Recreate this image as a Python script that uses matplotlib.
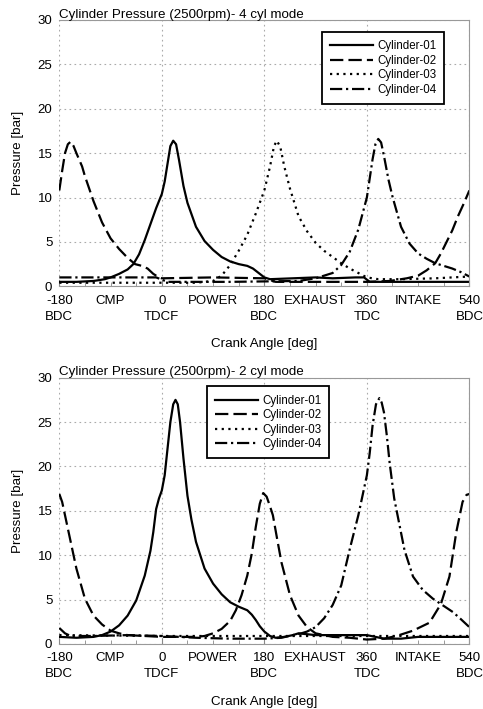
import matplotlib
matplotlib.use("Agg")
import matplotlib.pyplot as plt
from matplotlib.ticker import FixedLocator, FuncFormatter

plt.rcParams['font.family'] = ['Liberation Sans', 'DejaVu Sans']

# ---- 4 cylinder mode (top) ----
c1_4_deg = [-180, -150, -120, -100, -90, -75, -60, -50, -40, -30, -20, -10, 0, 5, 10, 15, 20, 25, 30, 38, 45,
            60, 75, 90, 105, 120, 135, 150, 160, 170, 180, 190, 230, 270, 300, 340, 355, 365, 400, 450, 500, 540]
c1_4_p = [0.5, 0.5, 0.6, 0.8, 1.0, 1.4, 1.9, 2.5, 3.6, 5.2, 7.0, 8.8, 10.4, 11.8, 13.8, 15.8, 16.4, 16.0, 14.3, 11.3, 9.4,
          6.7, 5.1, 4.1, 3.3, 2.8, 2.5, 2.3, 2.0, 1.5, 1.0, 0.8, 0.9, 1.0, 0.9, 1.0, 1.0, 0.5, 0.5, 0.5, 0.5, 0.5]

c2_4_deg = [-180, -175, -170, -165, -160, -155, -150, -140, -135, -120, -105, -90, -75, -60, -47, -35, -25, -15, -5,
            0, 90, 180, 200, 300, 360, 400, 430, 450, 465, 480, 490, 500, 510, 520, 530, 540]
c2_4_p = [10.8, 13.0, 15.0, 16.0, 16.3, 15.8, 15.0, 13.5, 12.4, 9.6, 7.2, 5.4, 4.2, 3.2, 2.5, 2.3, 2.0, 1.4, 1.0,
          0.9, 1.0, 0.9, 0.5, 0.5, 0.5, 0.6, 0.9, 1.2, 1.8, 2.6, 3.7, 5.0, 6.3, 7.9, 9.3, 10.8]

c3_4_deg = [-180, -90, 0, 60, 90, 105, 120, 135, 150, 165, 180, 190, 197, 202, 208, 215, 225, 240, 255, 270, 285,
            300, 315, 330, 345, 360, 380, 420, 480, 540]
c3_4_p = [0.4, 0.4, 0.4, 0.4, 0.6, 1.2, 2.4, 4.0, 5.8, 8.2, 10.8, 13.5, 15.8, 16.4, 15.7, 13.5, 11.0, 7.9, 6.2, 4.9, 4.0,
          3.3, 2.6, 2.0, 1.5, 1.0, 0.8, 0.8, 0.9, 1.1]

c4_4_deg = [-180, -90, -10, 10, 120, 240, 270, 285, 300, 315, 330, 345, 360, 370, 375, 380, 385, 390, 398, 405, 420,
            435, 450, 465, 480, 495, 510, 525, 540]
c4_4_p = [1.0, 1.0, 1.0, 0.5, 0.5, 0.6, 0.9, 1.2, 1.5, 2.4, 3.9, 6.4, 10.0, 14.3, 16.0, 16.6, 16.2, 14.7, 12.0, 10.1, 6.7,
          4.8, 3.7, 3.1, 2.6, 2.3, 2.0, 1.6, 1.1]

# ---- 2 cylinder mode (bottom) ----
c1_2_deg = [-180, -150, -120, -105, -90, -75, -60, -45, -30, -20, -15, -10, -5, 0, 5, 10, 15, 20, 24, 28, 32, 38, 45,
            52, 60, 75, 90, 105, 120, 135, 150, 158, 165, 172, 180, 190, 200, 215, 230, 240, 255, 270, 300, 360, 375,
            390, 420, 450, 540]
c1_2_p = [0.8, 0.7, 0.8, 1.0, 1.4, 2.1, 3.2, 4.9, 7.7, 10.5, 12.6, 15.2, 16.4, 17.3, 19.0, 22.0, 25.0, 27.0, 27.5, 27.0,
          25.0, 20.9, 16.7, 14.0, 11.5, 8.5, 6.8, 5.6, 4.7, 4.2, 3.8, 3.3, 2.7, 2.0, 1.4, 0.9, 0.7, 0.8, 1.0, 1.2, 1.1,
          1.0, 1.0, 1.0, 0.8, 0.6, 0.6, 0.8, 0.8]

c2_2_deg = [-180, -175, -170, -160, -150, -135, -120, -105, -90, -75, -60, -30, 0, 30, 60, 75, 90, 105, 120, 130, 140,
            150, 158, 165, 172, 178, 184, 190, 195, 202, 210, 225, 240, 255, 270, 300, 330, 360, 390, 412, 441, 470,
            490, 505, 517, 528, 535, 540]
c2_2_p = [16.9, 16.0, 14.5, 11.5, 8.5, 5.1, 3.2, 2.2, 1.5, 1.2, 1.0, 0.9, 0.8, 0.8, 0.8, 0.9, 1.2, 1.7, 2.6, 3.8, 5.5,
          7.7, 10.2, 13.2, 15.8, 17.0, 16.6, 15.5, 14.5, 12.0, 9.2, 5.5, 3.2, 1.9, 1.2, 0.8, 0.7, 0.5, 0.6, 0.9, 1.5,
          2.4, 4.5, 7.6, 12.6, 16.0, 16.8, 16.9]

c3_2_deg = [-180, 0, 180, 360, 540]
c3_2_p = [1.0, 0.9, 0.9, 0.9, 0.9]

c4_2_deg = [-180, -170, -160, -120, -60, 0, 60, 120, 180, 210, 230, 245, 255, 270, 285, 300, 315, 330, 345, 355, 360,
            365, 370, 376, 382, 386, 390, 395, 400, 408, 426, 441, 458, 476, 490, 511, 525, 540]
c4_2_p = [1.8, 1.2, 0.9, 0.9, 1.0, 0.9, 0.7, 0.6, 0.6, 0.7, 1.0, 1.2, 1.4, 1.9, 2.9, 4.4, 6.6, 10.7, 14.5, 17.5, 19.0,
          21.5, 24.6, 27.0, 27.7, 27.2, 26.1, 23.5, 20.4, 16.4, 10.6, 7.6, 6.1, 5.1, 4.5, 3.6, 2.8, 1.9]

labels = ['Cylinder-01', 'Cylinder-02', 'Cylinder-03', 'Cylinder-04']
major_ticks = [-180, 0, 180, 360, 540]
major_labels = ['-180\nBDC', '0\nTDCF', '180\nBDC', '360\nTDC', '540\nBDC']
stroke_names = {-90: 'CMP', 90: 'POWER', 270: 'EXHAUST', 450: 'INTAKE'}

styles = ['-', (0, (6, 2.3)), (0, (1, 2)), (0, (5.5, 1.7, 1, 1.7))]


def draw_panel(ax, series, title, legend_xy):
    for (deg, p), lab, ls in zip(series, labels, styles):
        ax.plot(deg, p, color='black', linestyle=ls, linewidth=1.6, label=lab)

    ax.set_xlim(-180, 540)
    ax.set_ylim(0, 30)
    ax.set_yticks([0, 5, 10, 15, 20, 25, 30])

    ax.xaxis.set_major_locator(FixedLocator(major_ticks))
    ax.set_xticklabels(major_labels)
    ax.xaxis.set_minor_locator(FixedLocator(list(range(-135, 540, 45))))
    ax.xaxis.set_minor_formatter(FuncFormatter(lambda v, pos: stroke_names.get(int(round(v)), '')))

    ax.tick_params(axis='x', which='both', direction='in', colors='#888888', labelcolor='black',
                   labelsize=9.5, pad=6)
    ax.tick_params(axis='x', which='major', length=4)
    ax.tick_params(axis='x', which='minor', length=3)
    ax.tick_params(axis='y', direction='in', length=0, labelsize=9.5, pad=5)
    for t in ax.get_xticklabels():
        t.set_linespacing(1.45)

    ax.grid(True, which='major', linestyle=(0, (1.5, 3)), color='#aaaaaa', linewidth=0.8)

    for side in ['top', 'right', 'bottom']:
        ax.spines[side].set_color('#999999')
        ax.spines[side].set_linewidth(0.8)
    ax.spines['left'].set_visible(False)

    ax.set_xlabel('Crank Angle [deg]', fontsize=9.6, labelpad=11)
    ax.set_ylabel('Pressure [bar]', fontsize=9.6, labelpad=10)
    ax.text(0.0, 0.997, title, transform=ax.transAxes, ha='left', va='bottom', fontsize=9.6)

    leg = ax.legend(loc='upper left', bbox_to_anchor=legend_xy, borderaxespad=0, fontsize=8.3,
                    handlelength=3.7, labelspacing=0.22, borderpad=0.7, handletextpad=0.35,
                    fancybox=False, framealpha=1)
    leg.get_frame().set_edgecolor('black')
    leg.get_frame().set_linewidth(1.3)


fig = plt.figure(figsize=(4.83, 7.09), dpi=100)
ax1 = fig.add_axes([0.1228, 0.5962, 0.849, 0.3756])
ax2 = fig.add_axes([0.1228, 0.0917, 0.849, 0.3756])

draw_panel(ax1, [(c1_4_deg, c1_4_p), (c2_4_deg, c2_4_p), (c3_4_deg, c3_4_p), (c4_4_deg, c4_4_p)],
           'Cylinder Pressure (2500rpm)- 4 cyl mode', (0.641, 0.955))
draw_panel(ax2, [(c1_2_deg, c1_2_p), (c2_2_deg, c2_2_p), (c3_2_deg, c3_2_p), (c4_2_deg, c4_2_p)],
           'Cylinder Pressure (2500rpm)- 2 cyl mode', (0.361, 0.967))

fig.savefig('out.png', dpi=100)
